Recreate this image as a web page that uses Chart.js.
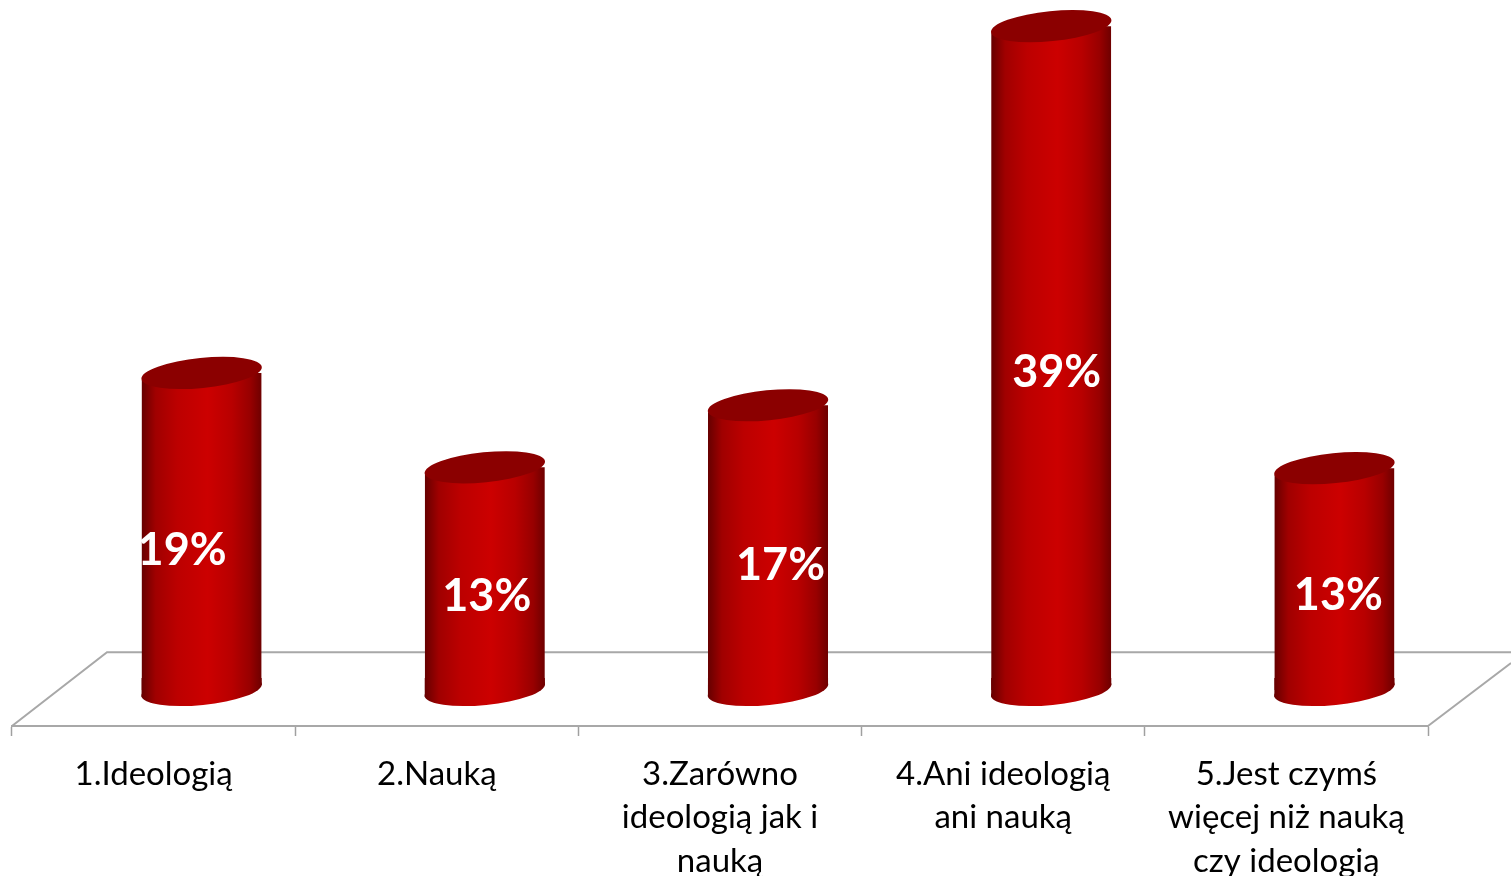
<!DOCTYPE html>
<html>
<head>
<meta charset="utf-8">
<style>
    html, body { margin: 0; padding: 0; background: #fff; overflow: hidden; }
    canvas { display: block; }
</style>
</head>
<body>
<canvas id="chart" width="1511" height="876"></canvas>
<script src="https://cdn.jsdelivr.net/npm/chart.js@4"></script>
<script>
const categories = [
    '1.Ideologią',
    '2.Nauką',
    ['3.Zarówno', 'ideologią jak i', 'nauką'],
    ['4.Ani ideologią', 'ani nauką'],
    ['5.Jest czymś', 'więcej niż nauką', 'czy ideologią']
];
const shares = [18.65, 13.1, 16.75, 39.05, 13.05];
const shareLabels = ['19%', '13%', '17%', '39%', '13%'];
// data labels sit off-centre in the original
const labelShiftX = [-19.5, 2, 12.5, 5.5, 4];
const labelShiftY = [19, 18, 18, 14, 16];

const depthX = 48, depthY = -36;   // bars stand on the back of the floor
const capRx = 60.5, capRy = 15, tilt = -0.1;

function cylinderGradient(context) {
    if (context.dataIndex === undefined) return '#c00000';
    const { chart, dataIndex } = context;
    const cx = chart.scales.x.getPixelForValue(dataIndex);
    if (!isFinite(cx)) return '#c00000';   // scale not laid out yet
    const g = chart.ctx.createLinearGradient(cx - capRx, 0, cx + capRx, 0);
    g.addColorStop(0, '#640000');
    g.addColorStop(0.12, '#a00000');
    g.addColorStop(0.3, '#bc0000');
    g.addColorStop(0.55, '#cc0000');
    g.addColorStop(0.75, '#b80000');
    g.addColorStop(0.9, '#980000');
    g.addColorStop(1, '#6c0000');
    return g;
}

const cylinders = {
    id: 'cylinders',
    beforeDatasetsDraw(chart) {
        const { ctx, chartArea: a } = chart;
        const bars = chart.getDatasetMeta(0).data;

        // floor
        ctx.save();
        ctx.strokeStyle = '#a8a8a8';
        ctx.lineWidth = 2;
        ctx.beginPath();
        ctx.moveTo(a.left, a.bottom);
        ctx.lineTo(107, a.bottom + depthY * 2.05);
        ctx.lineTo(chart.width, a.bottom + depthY * 2.05);
        ctx.moveTo(a.right, a.bottom);
        ctx.lineTo(chart.width, a.bottom - 63);
        ctx.stroke();
        ctx.restore();

        ctx.save();
        ctx.translate(depthX, depthY);

        // bottom of each cylinder
        bars.forEach(el => {
            const w = el.width / 2;
            ctx.fillStyle = el.options.backgroundColor;
            ctx.beginPath();
            ctx.ellipse(el.x, el.base, capRx, capRy, tilt, 0, Math.PI * 2);
            ctx.fill();
            ctx.beginPath();
            ctx.moveTo(el.x - w, el.base - 12);
            ctx.lineTo(el.x + w, el.base - 12);
            ctx.lineTo(el.x + w, el.base - 5);
            ctx.lineTo(el.x - w, el.base + 7);
            ctx.closePath();
            ctx.fill();
        });

        // slant both ends of the bars so the tilted caps fit
        ctx.beginPath();
        bars.forEach(el => {
            const w = el.width / 2;
            ctx.moveTo(el.x - w, el.y + 7);
            ctx.lineTo(el.x + w, el.y - 5);
            ctx.lineTo(el.x + w, el.base - 5);
            ctx.lineTo(el.x - w, el.base + 7);
            ctx.closePath();
        });
        ctx.clip();
    },
    afterDatasetsDraw(chart) {
        const { ctx } = chart;
        ctx.restore();
        const bars = chart.getDatasetMeta(0).data;

        ctx.save();
        ctx.translate(depthX, depthY);
        bars.forEach(el => {
            ctx.fillStyle = '#8b0000';
            ctx.beginPath();
            ctx.ellipse(el.x, el.y, capRx, capRy, tilt, 0, Math.PI * 2);
            ctx.fill();
        });

        ctx.fillStyle = '#ffffff';
        ctx.font = 'bold 45px Lato';
        ctx.textAlign = 'center';
        ctx.textBaseline = 'middle';
        bars.forEach((el, i) => {
            ctx.fillText(shareLabels[i], el.x + labelShiftX[i], (el.y + el.base) / 2 + labelShiftY[i]);
        });
        ctx.restore();
    }
};

new Chart(document.getElementById('chart'), {
    type: 'bar',
    data: {
        labels: categories,
        datasets: [{
            data: shares,
            backgroundColor: cylinderGradient,
            borderWidth: 0,
            barPercentage: 0.424,
            categoryPercentage: 1,
            clip: false
        }]
    },
    plugins: [cylinders],
    options: {
        responsive: false,
        animation: false,
        layout: { padding: { left: 12, right: 83, top: 46, bottom: 0 } },
        plugins: { legend: { display: false }, tooltip: { enabled: false } },
        scales: {
            x: {
                afterFit(scale) { scale.height = 150; },
                border: { color: '#a8a8a8', width: 2 },
                grid: { drawOnChartArea: false, color: '#a0a0a0', tickLength: 10, tickWidth: 1.5 },
                ticks: {
                    color: '#000000',
                    font: { family: 'Lato', size: 33, lineHeight: 1.31 },
                    padding: 17,
                    maxRotation: 0,
                    autoSkip: false
                }
            },
            y: { display: false, min: 0, max: 40 }
        }
    }
});
</script>
</body>
</html>
